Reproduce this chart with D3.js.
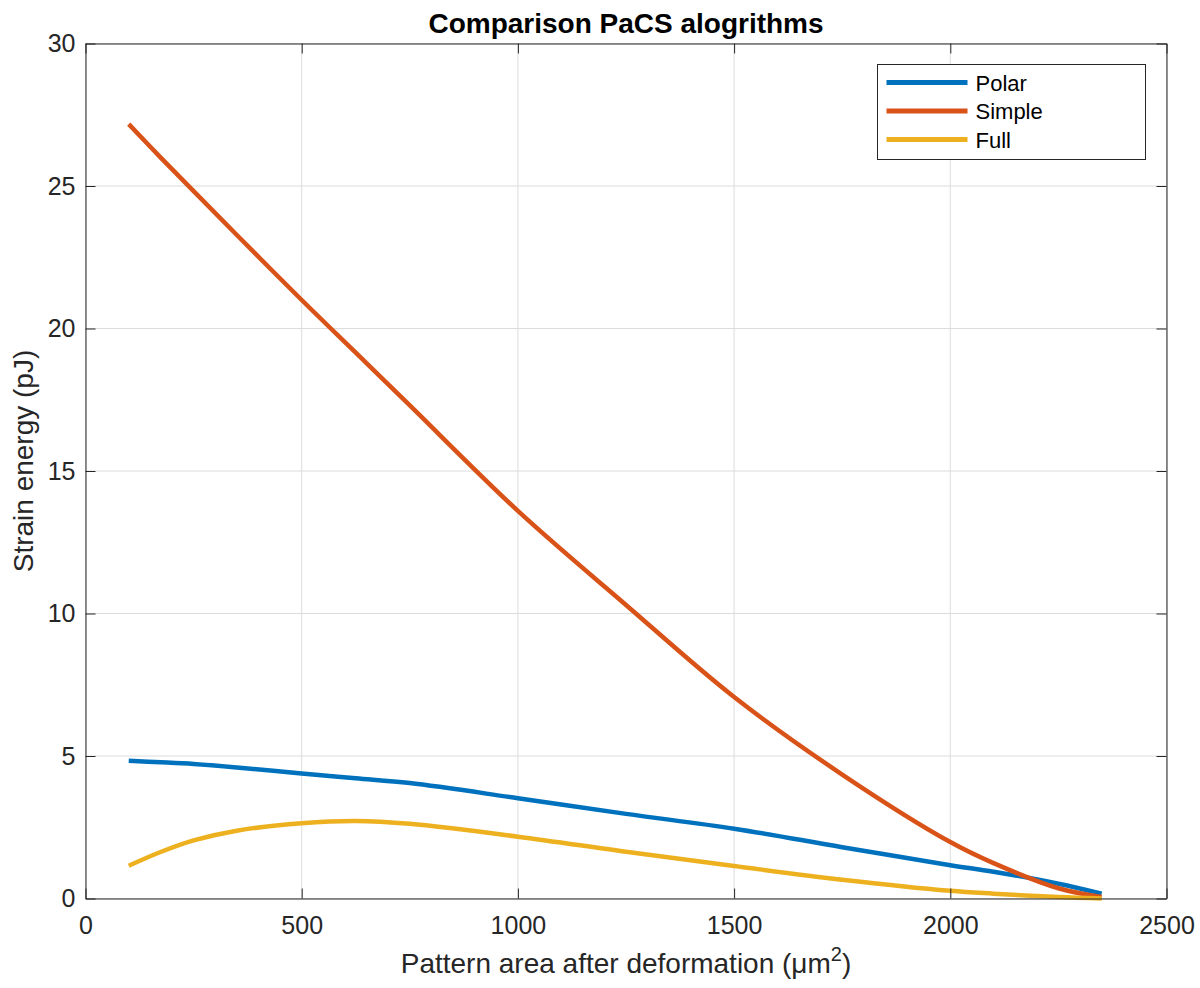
<!DOCTYPE html>
<html>
<head>
<meta charset="utf-8">
<script src="https://cdn.jsdelivr.net/npm/d3@7"></script>
<style>
  body { margin: 0; background: #fff; }
  text { font-family: "Liberation Sans", Arial, sans-serif; }
</style>
</head>
<body>
<script>
// Data
const areaValues = [100, 175, 250, 350, 500, 625, 750, 1000, 1250, 1500, 1750, 2000, 2100, 2250, 2350];
const polarValues = [4.83, 4.78, 4.72, 4.60, 4.39, 4.22, 4.05, 3.52, 2.97, 2.45, 1.80, 1.17, 0.94, 0.52, 0.17];
const simpleValues = [27.17, 25.98, 24.82, 23.28, 21.0, 19.15, 17.3, 13.6, 10.3, 7.07, 4.35, 1.98, 1.24, 0.36, 0.05];
const fullValues = [1.15, 1.64, 2.04, 2.38, 2.64, 2.72, 2.62, 2.17, 1.64, 1.14, 0.66, 0.27, 0.17, 0.05, 0.0];
const seriesNames = ["Polar", "Simple", "Full"];
const seriesColors = ["#0072BD", "#D95319", "#EDB120"];
const xTicks = [0, 500, 1000, 1500, 2000, 2500];
const yTicks = [0, 5, 10, 15, 20, 25, 30];

const width = 1200, height = 988;
const margins = {top: 43.5, left: 85.5, right: 33.5, bottom: 89.5};
const plotWidth = width - margins.left - margins.right;
const plotHeight = height - margins.top - margins.bottom;
const axisColor = "#262626";

const svg = d3.select("body").append("svg")
    .attr("width", width)
    .attr("height", height);

const xScale = d3.scaleLinear().domain([0, 2500]).range([0, plotWidth]);
const yScale = d3.scaleLinear().domain([0, 30]).range([plotHeight, 0]);

const plot = svg.append("g")
    .attr("transform", `translate(${margins.left},${margins.top})`);

// grid
plot.append("g").selectAll("line").data(xTicks).enter().append("line")
    .attr("x1", d => xScale(d)).attr("x2", d => xScale(d))
    .attr("y1", 0).attr("y2", plotHeight)
    .attr("stroke", "#dcdcdc").attr("stroke-width", 1);
plot.append("g").selectAll("line").data(yTicks).enter().append("line")
    .attr("x1", 0).attr("x2", plotWidth)
    .attr("y1", d => yScale(d)).attr("y2", d => yScale(d))
    .attr("stroke", "#dcdcdc").attr("stroke-width", 1);

// lines
const series = seriesNames.map((name, i) => ({
    name: name,
    color: seriesColors[i],
    values: [polarValues, simpleValues, fullValues][i].map((v, j) => ({x: areaValues[j], y: v}))
}));

const lineFn = d3.line()
    .x(d => xScale(d.x))
    .y(d => yScale(d.y))
    .curve(d3.curveCatmullRom.alpha(0.5));

plot.append("g").selectAll("path").data(series).enter().append("path")
    .attr("fill", "none")
    .attr("stroke", d => d.color)
    .attr("stroke-width", 4.5)
    .attr("d", d => lineFn(d.values));

// axes (MATLAB style: box, inward ticks)
const tickLen = 10;
const styleAxis = g => {
    g.select(".domain").attr("stroke", axisColor);
    g.selectAll(".tick line").attr("stroke", axisColor);
    g.selectAll(".tick text").attr("fill", axisColor)
        .style("font-size", "25px").style("font-family", "Liberation Sans, Arial, sans-serif");
};

plot.append("g")
    .attr("transform", `translate(0,${plotHeight})`)
    .call(d3.axisBottom(xScale).tickValues(xTicks).tickFormat(d3.format("d"))
        .tickSizeInner(-tickLen).tickSizeOuter(0).tickPadding(18))
    .call(styleAxis);
plot.append("g")
    .call(d3.axisTop(xScale).tickValues(xTicks).tickSizeInner(-tickLen).tickSizeOuter(0).tickFormat(""))
    .call(styleAxis);
plot.append("g")
    .call(d3.axisLeft(yScale).tickValues(yTicks).tickSizeInner(-tickLen).tickSizeOuter(0).tickPadding(10))
    .call(styleAxis);
plot.append("g")
    .attr("transform", `translate(${plotWidth},0)`)
    .call(d3.axisRight(yScale).tickValues(yTicks).tickSizeInner(-tickLen).tickSizeOuter(0).tickFormat(""))
    .call(styleAxis);

// title and labels
svg.append("text")
    .attr("x", margins.left + plotWidth / 2).attr("y", 33)
    .attr("text-anchor", "middle")
    .style("font-size", "28px").style("font-weight", "bold").attr("fill", "#000")
    .text("Comparison PaCS alogrithms");

const xLabel = svg.append("text")
    .attr("x", margins.left + plotWidth / 2).attr("y", 973)
    .attr("text-anchor", "middle")
    .style("font-size", "28px").attr("fill", axisColor)
    .text("Pattern area after deformation (μm");
xLabel.append("tspan").attr("dy", -12).style("font-size", "20px").text("2");
xLabel.append("tspan").attr("dy", 12).text(")");

svg.append("text")
    .attr("transform", `translate(33,461) rotate(-90)`)
    .attr("text-anchor", "middle")
    .style("font-size", "28px").attr("fill", axisColor)
    .text("Strain energy (pJ)");

// legend
const legend = svg.append("g").attr("transform", "translate(877.5,64.5)");
legend.append("rect")
    .attr("width", 268).attr("height", 95)
    .attr("fill", "#fff").attr("stroke", axisColor).attr("stroke-width", 1);
const items = legend.selectAll("g.item").data(series).enter().append("g")
    .attr("class", "item")
    .attr("transform", (d, i) => `translate(0,${18 + i * 28.5})`);
items.append("line")
    .attr("x1", 9).attr("x2", 90)
    .attr("stroke", d => d.color).attr("stroke-width", 5);
items.append("text")
    .attr("x", 98).attr("y", 8)
    .style("font-size", "22px").attr("fill", "#000")
    .text(d => d.name);
</script>
</body>
</html>
